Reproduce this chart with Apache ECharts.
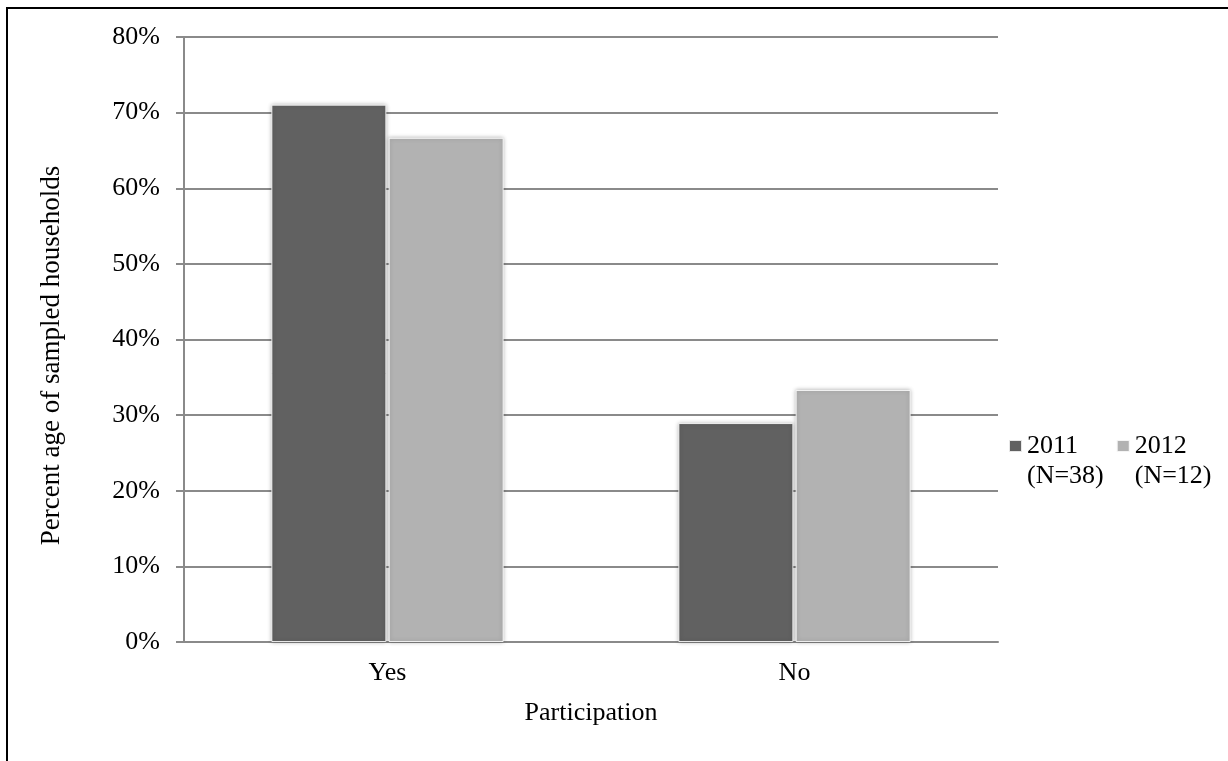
<!DOCTYPE html>
<html>
<head>
<meta charset="utf-8">
<title>Participation</title>
<script src="https://cdn.jsdelivr.net/npm/echarts@6/dist/echarts.min.js"></script>
<style>
  html, body { margin: 0; padding: 0; background: #fff; }
  #chart { width: 1228px; height: 761px; }
</style>
</head>
<body>
<div id="chart"></div>
<script>
// Share of sampled households by participation, per survey year
const categories = ['Yes', 'No'];
const seriesNames = ['2011\n(N=38)', '2012\n(N=12)'];
const values2011 = [71.05, 28.95];
const values2012 = [66.67, 33.33];
const yMin = 0;
const yMax = 80;
const yStep = 10;

const FONT = 'Liberation Serif';
const AXIS_GREY = '#8a8a8a';
const DARK = '#616161';
const LIGHT = '#b2b2b2';

const barStyle = (color) => ({
  color: color,
  borderColor: 'rgba(255,255,255,0.85)',
  borderWidth: 1,
  shadowBlur: 4,
  shadowColor: 'rgba(0,0,0,0.28)'
});

const chart = echarts.init(document.getElementById('chart'), null, { renderer: 'canvas' });

chart.setOption({
  animation: false,
  backgroundColor: '#fff',
  textStyle: { fontFamily: FONT, color: '#000' },
  graphic: [{
    type: 'rect',
    z: 100,
    silent: true,
    shape: { x: 7, y: 8, width: 1400, height: 1000 },
    style: { fill: 'none', stroke: '#000', lineWidth: 2 }
  }],
  grid: { left: 184, right: 230, top: 37, bottom: 119, containLabel: false },
  legend: {
    data: seriesNames,
    left: 1008,
    top: 401,
    padding: 0,
    itemGap: 12,
    itemWidth: 13,
    itemHeight: 12,
    icon: 'rect',
    // leading blank line keeps the marker level with the first text line
    formatter: (name) => '\n' + name,
    textStyle: {
      fontFamily: FONT,
      fontSize: 26,
      lineHeight: 30,
      color: '#000'
    }
  },
  xAxis: {
    type: 'category',
    data: categories,
    name: 'Participation',
    nameLocation: 'middle',
    nameGap: 58,
    nameTextStyle: { fontFamily: FONT, fontSize: 26, color: '#000' },
    axisLine: { show: true, lineStyle: { color: AXIS_GREY, width: 2 } },
    axisTick: { show: false },
    axisLabel: { fontFamily: FONT, fontSize: 26, color: '#000', margin: 18 },
    splitLine: { show: false }
  },
  yAxis: {
    type: 'value',
    min: yMin,
    max: yMax,
    interval: yStep,
    name: 'Percent age of sampled households',
    nameLocation: 'middle',
    nameGap: 119,
    nameTextStyle: { fontFamily: FONT, fontSize: 27, color: '#000', padding: [0, 32, 0, 0] },
    axisLine: { show: true, lineStyle: { color: AXIS_GREY, width: 2 } },
    axisTick: { show: true, inside: false, length: 8, lineStyle: { color: AXIS_GREY, width: 2 } },
    axisLabel: { fontFamily: FONT, fontSize: 26, color: '#000', margin: 24, formatter: '{value}%' },
    splitLine: { show: true, lineStyle: { color: AXIS_GREY, width: 2 } }
  },
  series: [
    {
      name: seriesNames[0],
      type: 'bar',
      data: values2011,
      barWidth: 115,
      barGap: '2%',
      itemStyle: barStyle(DARK)
    },
    {
      name: seriesNames[1],
      type: 'bar',
      data: values2012,
      barWidth: 115,
      barGap: '2%',
      itemStyle: barStyle(LIGHT)
    }
  ]
});
</script>
</body>
</html>
